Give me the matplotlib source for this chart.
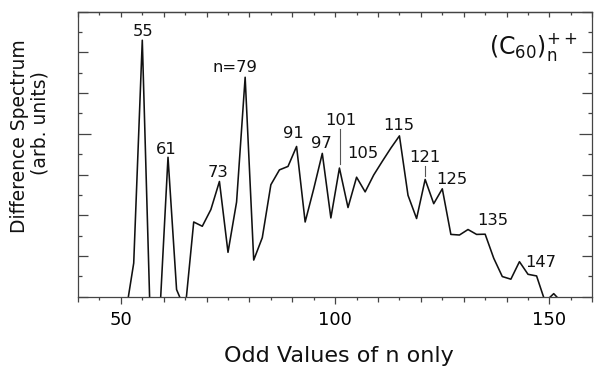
import matplotlib
matplotlib.use('Agg')
import matplotlib.pyplot as plt
from matplotlib.ticker import MultipleLocator, FuncFormatter, NullFormatter

plt.rcParams['font.family'] = ['DejaVu Sans']
plt.rcParams['mathtext.fontset'] = 'dejavusans'

# ---- data ----
n_values = list(range(51, 155, 2))
intensity = [
    -1.0, 1.65, 12.6, -2.2, -1.2,
    6.85, 0.35, -0.65, 3.67, 3.46,
    4.28, 5.66, 2.18, 4.65, 10.78,
    1.8, 2.9, 5.5, 6.23, 6.4,
    7.38, 3.67, 5.3, 7.04, 3.87,
    6.32, 4.38, 5.87, 5.15, 5.98,
    6.65, 7.3, 7.9, 4.98, 3.84,
    5.76, 4.57, 5.3, 3.06, 3.03,
    3.3, 3.06, 3.07, 1.89, 0.99,
    0.86, 1.72, 1.1, 1.02, -0.25,
    0.15, -0.3,
]

peak_labels = ['55', '61', '73', 'n=79', '91', '97', '101', '105', '115', '121', '125', '135', '147']
label_x = [55.1, 60.7, 72.75, 76.65, 90.2, 96.8, 101.3, 106.5, 114.8, 121.0, 127.2, 136.7, 148.0]
label_y = [13.02, 7.22, 6.11, 11.27, 8.01, 7.52, 8.68, 7.04, 8.42, 6.84, 5.76, 3.72, 1.67]

leader_x = [101.15, 121.0]
leader_y0 = [6.54, 5.95]
leader_y1 = [8.24, 6.40]

x_range = (40, 160)
y_range = (0, 14)

W, H = 595, 366
fig = plt.figure(figsize=(W / 100, H / 100), dpi=100)
ax = fig.add_axes([78 / W, 1 - 296.7 / H, (592.3 - 78) / W, (296.7 - 11.7) / H])

ax.plot(n_values, intensity, color='#111111', lw=1.15)
ax.set_xlim(*x_range)
ax.set_ylim(*y_range)

for txt, xx, yy in zip(peak_labels, label_x, label_y):
    ax.text(xx, yy, txt, ha='center', va='center', fontsize=11.8, color='#111111')
for xx, y0, y1 in zip(leader_x, leader_y0, leader_y1):
    ax.plot([xx, xx], [y0, y1], color='#555555', lw=0.8)

ax.text(136.0, 11.9, r'(C$_{60}$)$_{\mathregular{n}}^{++}$', ha='left', va='baseline',
        fontsize=17, color='#111111')

spine_col = '#444444'
for s in ax.spines.values():
    s.set_color(spine_col)
    s.set_linewidth(0.9)

# x ticks (bottom, outward)
ax.xaxis.set_major_locator(MultipleLocator(10))
ax.xaxis.set_minor_locator(MultipleLocator(5))
ax.xaxis.set_major_formatter(FuncFormatter(lambda v, p: f'{int(round(v))}' if round(v) % 50 == 0 else ''))
ax.tick_params(axis='x', which='major', direction='out', length=3.6, width=0.9, color=spine_col,
               labelsize=13, pad=7, top=False)
ax.tick_params(axis='x', which='minor', direction='out', length=1.8, width=0.9, color=spine_col, top=False)

# top ticks (inward)
sec = ax.secondary_xaxis('top')
sec.xaxis.set_major_locator(MultipleLocator(10))
sec.xaxis.set_minor_locator(MultipleLocator(5))
sec.xaxis.set_major_formatter(NullFormatter())
sec.tick_params(axis='x', which='major', direction='in', length=3.6, width=0.9, color=spine_col)
sec.tick_params(axis='x', which='minor', direction='in', length=1.8, width=0.9, color=spine_col)
sec.spines['top'].set_color(spine_col)
sec.spines['top'].set_linewidth(0.9)

# y ticks (inward both sides, no labels)
ax.yaxis.set_major_locator(MultipleLocator(2))
ax.yaxis.set_minor_locator(MultipleLocator(1))
ax.yaxis.set_major_formatter(NullFormatter())
ax.tick_params(axis='y', which='major', direction='in', length=7.2, width=0.9, color=spine_col,
               left=True, right=True)
ax.tick_params(axis='y', which='minor', direction='in', length=2.9, width=0.9, color=spine_col,
               left=True, right=True)

fig.canvas.draw()
for t in ax.xaxis.get_major_ticks():
    if round(t.get_loc()) % 50 == 0:
        t.tick1line.set_markersize(5.0)
for t in ax.yaxis.get_major_ticks():
    if abs(t.get_loc() - 8) < 0.01:
        t.tick1line.set_markersize(9.4)
        t.tick2line.set_markersize(9.4)

fig.text(338.8 / W, 1 - 362.5 / H, 'Odd Values of n only', ha='center', va='baseline',
         fontsize=16, color='#111111')
fig.text(20 / W, 1 - 136.5 / H, 'Difference Spectrum', rotation=90, ha='center', va='center',
         fontsize=13.5, color='#111111')
fig.text(40 / W, 1 - 123.5 / H, '(arb. units)', rotation=90, ha='center', va='center',
         fontsize=13.5, color='#111111')

fig.savefig('out.png', dpi=100)
